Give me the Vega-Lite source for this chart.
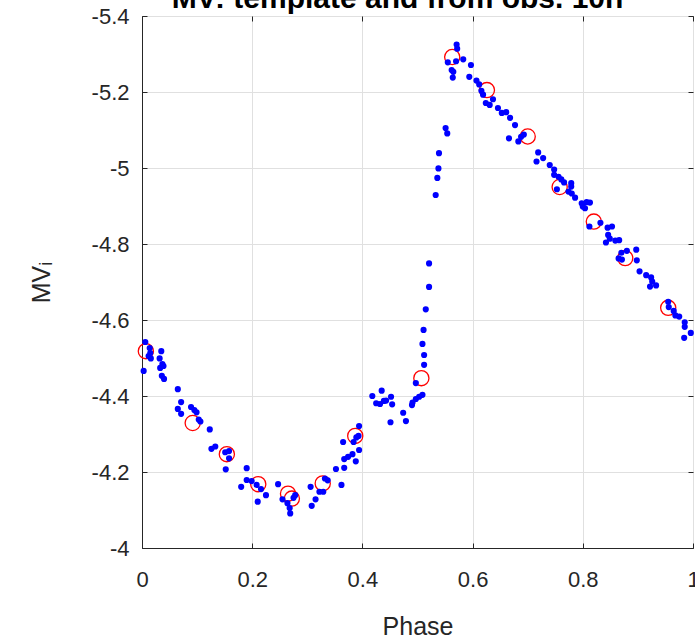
{
  "$schema": "https://vega.github.io/schema/vega-lite/v6.json",
  "width": 551,
  "height": 532,
  "autosize": {"type": "none"},
  "padding": {"left": 142, "top": 16, "right": 2, "bottom": 94},
  "background": "white",
  "title": {
    "text": "MV: template and from obs. 10n",
    "fontSize": 30,
    "fontWeight": "bold",
    "font": "Liberation Sans",
    "color": "#000000",
    "anchor": "middle",
    "dx": -20,
    "offset": -9
  },
  "config": {
    "view": {"stroke": "#262626", "strokeWidth": 1},
    "axis": {
      "labelFont": "Liberation Sans",
      "labelFontSize": 22,
      "labelColor": "#262626",
      "titleFont": "Liberation Sans",
      "titleFontSize": 25,
      "titleFontWeight": "normal",
      "titleColor": "#262626",
      "domainColor": "#262626",
      "tickColor": "#262626",
      "gridColor": "#e0e0e0",
      "gridWidth": 1
    }
  },
  "datasets": {
    "template": [
      {"phase": 0.007, "mv": -4.518},
      {"phase": 0.092, "mv": -4.329},
      {"phase": 0.154, "mv": -4.247},
      {"phase": 0.211, "mv": -4.168},
      {"phase": 0.265, "mv": -4.143},
      {"phase": 0.272, "mv": -4.130},
      {"phase": 0.328, "mv": -4.170},
      {"phase": 0.387, "mv": -4.295},
      {"phase": 0.507, "mv": -4.447},
      {"phase": 0.563, "mv": -5.292},
      {"phase": 0.626, "mv": -5.205},
      {"phase": 0.700, "mv": -5.083},
      {"phase": 0.758, "mv": -4.950},
      {"phase": 0.820, "mv": -4.859},
      {"phase": 0.877, "mv": -4.763},
      {"phase": 0.955, "mv": -4.632}
    ],
    "obs": [
      {"phase": 0.003, "mv": -4.466},
      {"phase": 0.006, "mv": -4.542},
      {"phase": 0.014, "mv": -4.526},
      {"phase": 0.015, "mv": -4.513},
      {"phase": 0.012, "mv": -4.505},
      {"phase": 0.016, "mv": -4.499},
      {"phase": 0.035, "mv": -4.518},
      {"phase": 0.032, "mv": -4.499},
      {"phase": 0.037, "mv": -4.484},
      {"phase": 0.039, "mv": -4.479},
      {"phase": 0.033, "mv": -4.474},
      {"phase": 0.036, "mv": -4.453},
      {"phase": 0.040, "mv": -4.445},
      {"phase": 0.065, "mv": -4.418},
      {"phase": 0.071, "mv": -4.384},
      {"phase": 0.065, "mv": -4.366},
      {"phase": 0.071, "mv": -4.353},
      {"phase": 0.089, "mv": -4.371},
      {"phase": 0.095, "mv": -4.363},
      {"phase": 0.099, "mv": -4.357},
      {"phase": 0.103, "mv": -4.338},
      {"phase": 0.106, "mv": -4.333},
      {"phase": 0.123, "mv": -4.312},
      {"phase": 0.126, "mv": -4.261},
      {"phase": 0.133, "mv": -4.267},
      {"phase": 0.151, "mv": -4.252},
      {"phase": 0.158, "mv": -4.255},
      {"phase": 0.158, "mv": -4.236},
      {"phase": 0.152, "mv": -4.207},
      {"phase": 0.190, "mv": -4.210},
      {"phase": 0.180, "mv": -4.161},
      {"phase": 0.190, "mv": -4.179},
      {"phase": 0.199, "mv": -4.176},
      {"phase": 0.208, "mv": -4.166},
      {"phase": 0.210, "mv": -4.122},
      {"phase": 0.216, "mv": -4.155},
      {"phase": 0.225, "mv": -4.139},
      {"phase": 0.247, "mv": -4.168},
      {"phase": 0.255, "mv": -4.128},
      {"phase": 0.264, "mv": -4.118},
      {"phase": 0.268, "mv": -4.105},
      {"phase": 0.269, "mv": -4.091},
      {"phase": 0.275, "mv": -4.132},
      {"phase": 0.278, "mv": -4.139},
      {"phase": 0.306, "mv": -4.161},
      {"phase": 0.315, "mv": -4.128},
      {"phase": 0.308, "mv": -4.111},
      {"phase": 0.322, "mv": -4.148},
      {"phase": 0.329, "mv": -4.148},
      {"phase": 0.332, "mv": -4.183},
      {"phase": 0.337, "mv": -4.178},
      {"phase": 0.352, "mv": -4.208},
      {"phase": 0.362, "mv": -4.166},
      {"phase": 0.367, "mv": -4.211},
      {"phase": 0.367, "mv": -4.234},
      {"phase": 0.374, "mv": -4.240},
      {"phase": 0.382, "mv": -4.247},
      {"phase": 0.388, "mv": -4.228},
      {"phase": 0.394, "mv": -4.258},
      {"phase": 0.365, "mv": -4.279},
      {"phase": 0.384, "mv": -4.279},
      {"phase": 0.389, "mv": -4.291},
      {"phase": 0.393, "mv": -4.295},
      {"phase": 0.394, "mv": -4.321},
      {"phase": 0.418, "mv": -4.400},
      {"phase": 0.425, "mv": -4.381},
      {"phase": 0.432, "mv": -4.379},
      {"phase": 0.435, "mv": -4.414},
      {"phase": 0.439, "mv": -4.387},
      {"phase": 0.443, "mv": -4.388},
      {"phase": 0.452, "mv": -4.398},
      {"phase": 0.454, "mv": -4.378},
      {"phase": 0.451, "mv": -4.331},
      {"phase": 0.474, "mv": -4.356},
      {"phase": 0.479, "mv": -4.334},
      {"phase": 0.490, "mv": -4.376},
      {"phase": 0.491, "mv": -4.383},
      {"phase": 0.497, "mv": -4.392},
      {"phase": 0.503, "mv": -4.398},
      {"phase": 0.509, "mv": -4.403},
      {"phase": 0.497, "mv": -4.434},
      {"phase": 0.512, "mv": -4.482},
      {"phase": 0.512, "mv": -4.508},
      {"phase": 0.509, "mv": -4.537},
      {"phase": 0.511, "mv": -4.574},
      {"phase": 0.515, "mv": -4.628},
      {"phase": 0.521, "mv": -4.687},
      {"phase": 0.521, "mv": -4.749},
      {"phase": 0.533, "mv": -4.929},
      {"phase": 0.536, "mv": -4.974},
      {"phase": 0.538, "mv": -4.999},
      {"phase": 0.539, "mv": -5.039},
      {"phase": 0.551, "mv": -5.105},
      {"phase": 0.554, "mv": -5.091},
      {"phase": 0.571, "mv": -5.325},
      {"phase": 0.572, "mv": -5.314},
      {"phase": 0.583, "mv": -5.286},
      {"phase": 0.570, "mv": -5.281},
      {"phase": 0.555, "mv": -5.278},
      {"phase": 0.562, "mv": -5.258},
      {"phase": 0.565, "mv": -5.253},
      {"phase": 0.564, "mv": -5.238},
      {"phase": 0.597, "mv": -5.271},
      {"phase": 0.594, "mv": -5.240},
      {"phase": 0.607, "mv": -5.230},
      {"phase": 0.612, "mv": -5.220},
      {"phase": 0.616, "mv": -5.203},
      {"phase": 0.619, "mv": -5.193},
      {"phase": 0.637, "mv": -5.181},
      {"phase": 0.624, "mv": -5.171},
      {"phase": 0.631, "mv": -5.166},
      {"phase": 0.646, "mv": -5.158},
      {"phase": 0.653, "mv": -5.145},
      {"phase": 0.661, "mv": -5.147},
      {"phase": 0.668, "mv": -5.132},
      {"phase": 0.677, "mv": -5.113},
      {"phase": 0.666, "mv": -5.078},
      {"phase": 0.683, "mv": -5.070},
      {"phase": 0.688, "mv": -5.082},
      {"phase": 0.693, "mv": -5.088},
      {"phase": 0.719, "mv": -5.041},
      {"phase": 0.716, "mv": -5.017},
      {"phase": 0.728, "mv": -5.026},
      {"phase": 0.740, "mv": -5.008},
      {"phase": 0.748, "mv": -4.996},
      {"phase": 0.748, "mv": -4.982},
      {"phase": 0.756, "mv": -4.977},
      {"phase": 0.761, "mv": -4.970},
      {"phase": 0.766, "mv": -4.962},
      {"phase": 0.779, "mv": -4.960},
      {"phase": 0.779, "mv": -4.951},
      {"phase": 0.753, "mv": -4.944},
      {"phase": 0.774, "mv": -4.938},
      {"phase": 0.780, "mv": -4.933},
      {"phase": 0.786, "mv": -4.922},
      {"phase": 0.798, "mv": -4.907},
      {"phase": 0.800, "mv": -4.899},
      {"phase": 0.807, "mv": -4.910},
      {"phase": 0.813, "mv": -4.909},
      {"phase": 0.804, "mv": -4.894},
      {"phase": 0.812, "mv": -4.846},
      {"phase": 0.832, "mv": -4.856},
      {"phase": 0.845, "mv": -4.843},
      {"phase": 0.853, "mv": -4.846},
      {"phase": 0.846, "mv": -4.824},
      {"phase": 0.849, "mv": -4.814},
      {"phase": 0.842, "mv": -4.804},
      {"phase": 0.859, "mv": -4.809},
      {"phase": 0.866, "mv": -4.810},
      {"phase": 0.870, "mv": -4.777},
      {"phase": 0.880, "mv": -4.782},
      {"phase": 0.865, "mv": -4.762},
      {"phase": 0.871, "mv": -4.759},
      {"phase": 0.897, "mv": -4.785},
      {"phase": 0.898, "mv": -4.757},
      {"phase": 0.903, "mv": -4.728},
      {"phase": 0.915, "mv": -4.718},
      {"phase": 0.924, "mv": -4.712},
      {"phase": 0.926, "mv": -4.701},
      {"phase": 0.922, "mv": -4.688},
      {"phase": 0.933, "mv": -4.691},
      {"phase": 0.955, "mv": -4.648},
      {"phase": 0.956, "mv": -4.634},
      {"phase": 0.965, "mv": -4.624},
      {"phase": 0.968, "mv": -4.612},
      {"phase": 0.975, "mv": -4.609},
      {"phase": 0.985, "mv": -4.594},
      {"phase": 0.985, "mv": -4.582},
      {"phase": 0.996, "mv": -4.566},
      {"phase": 0.984, "mv": -4.553}
    ]
  },
  "layer": [
    {
      "data": {"name": "template"},
      "mark": {"type": "point", "shape": "circle", "filled": false, "stroke": "#ff0000", "strokeWidth": 1.3, "size": 230, "opacity": 1},
      "encoding": {
        "x": {
          "field": "phase", "type": "quantitative",
          "scale": {"domain": [0, 1], "nice": false, "zero": false},
          "axis": {"title": "Phase", "values": [0, 0.2, 0.4, 0.6, 0.8, 1], "labelExpr": "replace(format(datum.value, '~g'), '\u2212', '-')", "tickSize": -5, "labelPadding": 26, "titlePadding": 24, "grid": true, "labelFlush": false}
        },
        "y": {
          "field": "mv", "type": "quantitative",
          "scale": {"domain": [-5.4, -4], "nice": false, "zero": false, "reverse": true},
          "axis": {"title": "MVᵢ", "values": [-5.4, -5.2, -5, -4.8, -4.6, -4.4, -4.2, -4], "labelExpr": "replace(format(datum.value, '~g'), '\u2212', '-')", "tickSize": -5, "labelPadding": 18, "titlePadding": 37, "grid": true, "labelFlush": false}
        }
      }
    },
    {
      "data": {"name": "obs"},
      "mark": {"type": "circle", "color": "#0000ff", "size": 38, "opacity": 1},
      "encoding": {
        "x": {"field": "phase", "type": "quantitative", "axis": null},
        "y": {"field": "mv", "type": "quantitative", "axis": null}
      }
    },
    {
      "data": {"name": "template"},
      "mark": {"type": "point", "opacity": 0},
      "encoding": {
        "x": {"field": "phase", "type": "quantitative", "axis": {"orient": "top", "title": null, "labels": false, "domain": false, "grid": false, "tickSize": -5, "values": [0, 0.2, 0.4, 0.6, 0.8, 1]}},
        "y": {"field": "mv", "type": "quantitative", "axis": {"orient": "right", "title": null, "labels": false, "domain": false, "grid": false, "tickSize": -5, "values": [-5.4, -5.2, -5, -4.8, -4.6, -4.4, -4.2, -4]}}
      }
    }
  ],
  "resolve": {"axis": {"x": "independent", "y": "independent"}}
}
